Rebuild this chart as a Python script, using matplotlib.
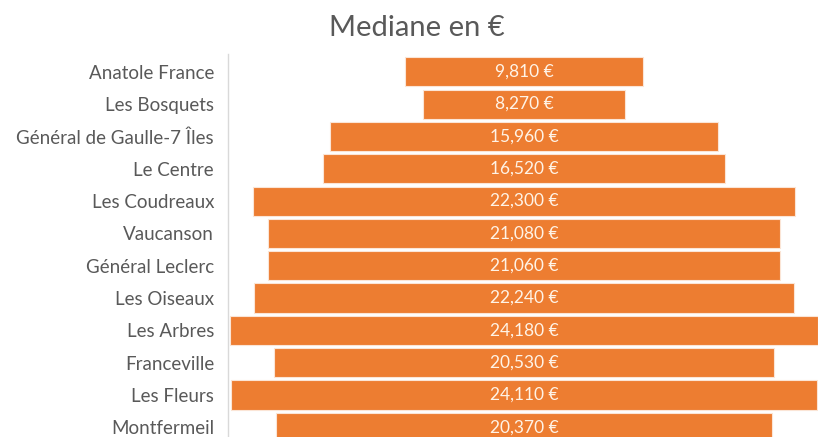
import matplotlib.pyplot as plt
import numpy as np

plt.rcParams['font.family'] = ['Lato', 'DejaVu Sans']

# données : médiane du revenu par quartier
quartiers = ["Anatole France", "Les Bosquets", "Général de Gaulle-7 Îles", "Le Centre",
             "Les Coudreaux", "Vaucanson", "Général Leclerc", "Les Oiseaux",
             "Les Arbres", "Franceville", "Les Fleurs", "Montfermeil"]
mediane = [9810, 8270, 15960, 16520, 22300, 21080, 21060, 22240, 24180, 20530, 24110, 20370]

orange = "#ED7D31"
gris = "#595959"

fig = plt.figure(figsize=(8.18, 4.37), dpi=100)
ax = fig.add_axes([228 / 818, 0, 592 / 818, 1 - 54 / 437])

y = np.arange(len(quartiers))
vals = np.array(mediane)
ax.barh(y, vals, left=-vals / 2, height=0.9, color=orange, edgecolor="#FBE5D6", linewidth=0.8)

for yi, v in zip(y, mediane):
    ax.text(0, yi, f"{v:,} €", ha="center", va="center", color="#FFF3E6", fontsize=12.5)

ax.set_xlim(-12170, 12170)
ax.set_ylim(11.3, -0.55)
ax.set_yticks(y)
ax.set_yticklabels(quartiers, fontsize=13.5, color=gris)
ax.tick_params(axis="y", length=0, pad=10)
ax.set_xticks([])
for s in ["top", "right", "bottom"]:
    ax.spines[s].set_visible(False)
ax.spines["left"].set_color("#D9D9D9")
ax.spines["left"].set_linewidth(1)

fig.text(417 / 818, 1 - 28 / 437, "Mediane en €", ha="center", va="center", fontsize=21, color=gris)

fig.savefig("out.png", dpi=100)
